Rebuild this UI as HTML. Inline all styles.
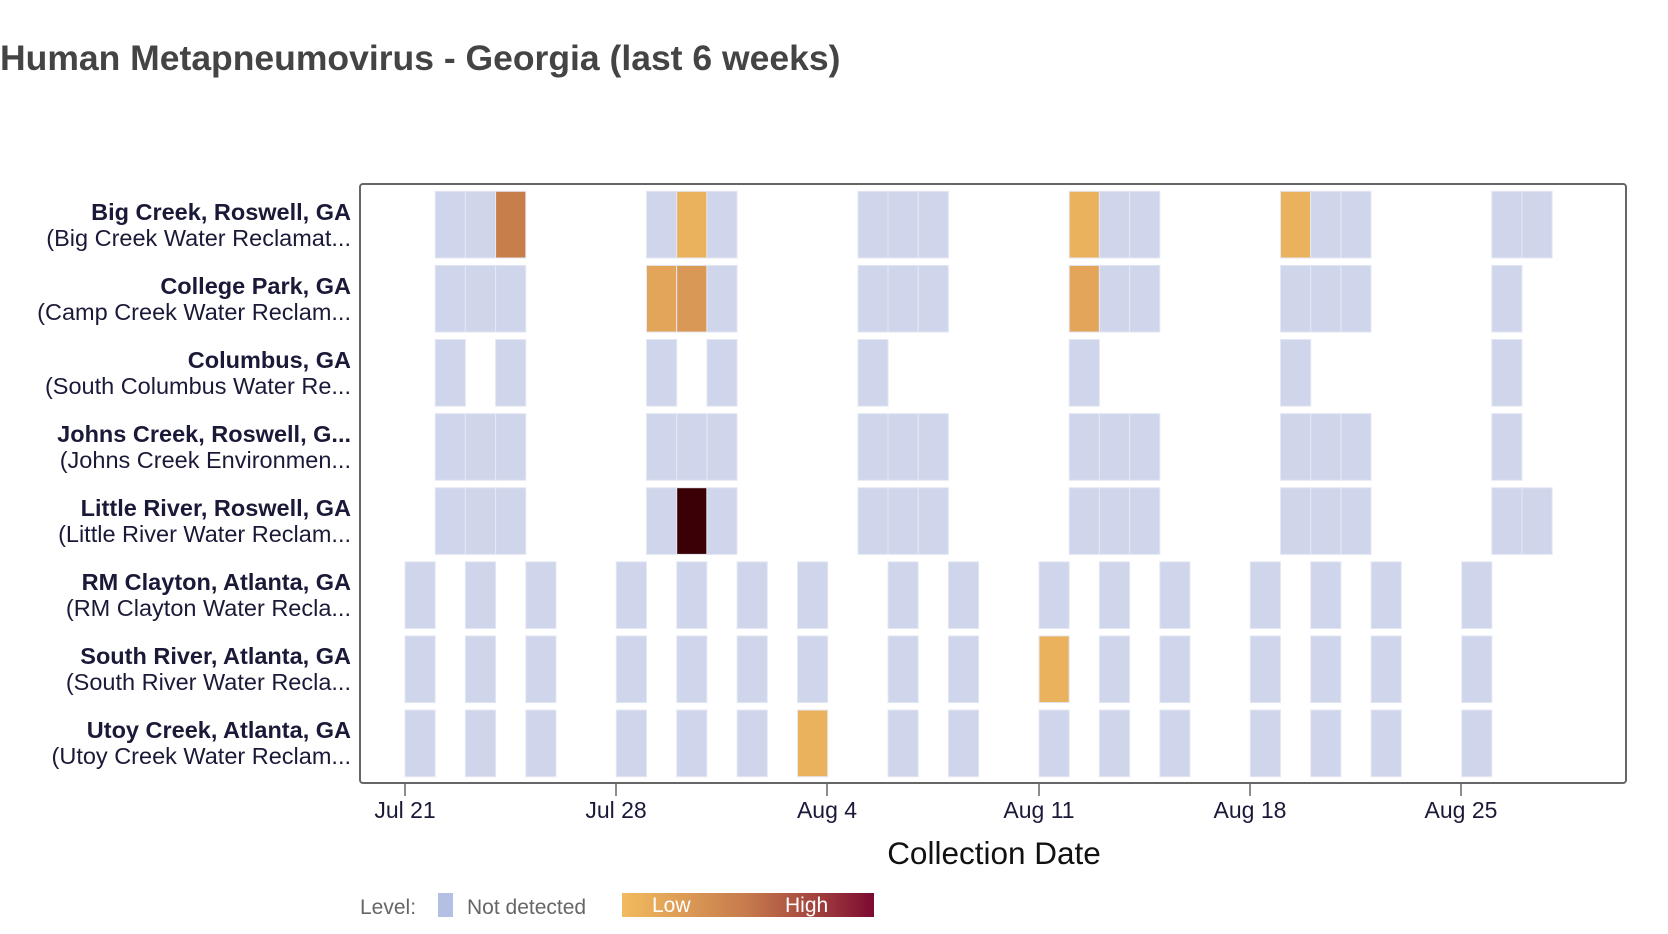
<!DOCTYPE html>
<html><head><meta charset="utf-8"><style>body{margin:0;background:#fff}svg{display:block}</style></head>
<body>
<svg width="1668" height="934" xmlns="http://www.w3.org/2000/svg" font-family="Liberation Sans, Arial, sans-serif">
<defs><linearGradient id="g" x1="0" x2="1"><stop offset="0" stop-color="#f2bb5e"/><stop offset="0.5" stop-color="#c57a4c"/><stop offset="0.75" stop-color="#a5463f"/><stop offset="1" stop-color="#7c0a32"/></linearGradient></defs>
<text x="0" y="70" font-size="35.5" font-weight="bold" fill="#444">Human Metapneumovirus - Georgia (last 6 weeks)</text>
<rect x="360" y="184" width="1266" height="599" rx="3" fill="none" stroke="#666" stroke-width="2"/>
<g stroke="#e4e8f4" stroke-width="1" fill="#cfd6ec">
<g transform="translate(0,191.3)">
<rect x="435.2" width="30.2" height="66.7"/><rect x="465.4" width="30.2" height="66.7"/><rect x="495.6" width="30.2" height="66.7" fill="#c87e4b"/>
<rect x="646.5" width="30.2" height="66.7"/><rect x="676.7" width="30.2" height="66.7" fill="#eab25c"/><rect x="706.9" width="30.2" height="66.7"/>
<rect x="857.9" width="30.2" height="66.7"/><rect x="888.0" width="30.2" height="66.7"/><rect x="918.2" width="30.2" height="66.7"/>
<rect x="1069.2" width="30.2" height="66.7" fill="#eab25c"/><rect x="1099.4" width="30.2" height="66.7"/><rect x="1129.6" width="30.2" height="66.7"/>
<rect x="1280.5" width="30.2" height="66.7" fill="#eab25c"/><rect x="1310.7" width="30.2" height="66.7"/><rect x="1340.9" width="30.2" height="66.7"/>
<rect x="1491.8" width="30.2" height="66.7"/><rect x="1522.0" width="30.2" height="66.7"/>
</g>
<g transform="translate(0,265.4)">
<rect x="435.2" width="30.2" height="66.7"/><rect x="465.4" width="30.2" height="66.7"/><rect x="495.6" width="30.2" height="66.7"/>
<rect x="646.5" width="30.2" height="66.7" fill="#e2a55a"/><rect x="676.7" width="30.2" height="66.7" fill="#d99855"/><rect x="706.9" width="30.2" height="66.7"/>
<rect x="857.9" width="30.2" height="66.7"/><rect x="888.0" width="30.2" height="66.7"/><rect x="918.2" width="30.2" height="66.7"/>
<rect x="1069.2" width="30.2" height="66.7" fill="#e2a55a"/><rect x="1099.4" width="30.2" height="66.7"/><rect x="1129.6" width="30.2" height="66.7"/>
<rect x="1280.5" width="30.2" height="66.7"/><rect x="1310.7" width="30.2" height="66.7"/><rect x="1340.9" width="30.2" height="66.7"/>
<rect x="1491.8" width="30.2" height="66.7"/>
</g>
<g transform="translate(0,339.5)">
<rect x="435.2" width="30.2" height="66.7"/><rect x="495.6" width="30.2" height="66.7"/>
<rect x="646.5" width="30.2" height="66.7"/><rect x="706.9" width="30.2" height="66.7"/>
<rect x="857.9" width="30.2" height="66.7"/><rect x="1069.2" width="30.2" height="66.7"/><rect x="1280.5" width="30.2" height="66.7"/><rect x="1491.8" width="30.2" height="66.7"/>
</g>
<g transform="translate(0,413.6)">
<rect x="435.2" width="30.2" height="66.7"/><rect x="465.4" width="30.2" height="66.7"/><rect x="495.6" width="30.2" height="66.7"/>
<rect x="646.5" width="30.2" height="66.7"/><rect x="676.7" width="30.2" height="66.7"/><rect x="706.9" width="30.2" height="66.7"/>
<rect x="857.9" width="30.2" height="66.7"/><rect x="888.0" width="30.2" height="66.7"/><rect x="918.2" width="30.2" height="66.7"/>
<rect x="1069.2" width="30.2" height="66.7"/><rect x="1099.4" width="30.2" height="66.7"/><rect x="1129.6" width="30.2" height="66.7"/>
<rect x="1280.5" width="30.2" height="66.7"/><rect x="1310.7" width="30.2" height="66.7"/><rect x="1340.9" width="30.2" height="66.7"/>
<rect x="1491.8" width="30.2" height="66.7"/>
</g>
<g transform="translate(0,487.7)">
<rect x="435.2" width="30.2" height="66.7"/><rect x="465.4" width="30.2" height="66.7"/><rect x="495.6" width="30.2" height="66.7"/>
<rect x="646.5" width="30.2" height="66.7"/><rect x="676.7" width="30.2" height="66.7" fill="#3a0005"/><rect x="706.9" width="30.2" height="66.7"/>
<rect x="857.9" width="30.2" height="66.7"/><rect x="888.0" width="30.2" height="66.7"/><rect x="918.2" width="30.2" height="66.7"/>
<rect x="1069.2" width="30.2" height="66.7"/><rect x="1099.4" width="30.2" height="66.7"/><rect x="1129.6" width="30.2" height="66.7"/>
<rect x="1280.5" width="30.2" height="66.7"/><rect x="1310.7" width="30.2" height="66.7"/><rect x="1340.9" width="30.2" height="66.7"/>
<rect x="1491.8" width="30.2" height="66.7"/><rect x="1522.0" width="30.2" height="66.7"/>
</g>
<g transform="translate(0,561.8)">
<rect x="405.0" width="30.2" height="66.7"/><rect x="465.4" width="30.2" height="66.7"/><rect x="525.8" width="30.2" height="66.7"/>
<rect x="616.3" width="30.2" height="66.7"/><rect x="676.7" width="30.2" height="66.7"/><rect x="737.1" width="30.2" height="66.7"/><rect x="797.5" width="30.2" height="66.7"/>
<rect x="888.0" width="30.2" height="66.7"/><rect x="948.4" width="30.2" height="66.7"/>
<rect x="1039.0" width="30.2" height="66.7"/><rect x="1099.4" width="30.2" height="66.7"/><rect x="1159.8" width="30.2" height="66.7"/>
<rect x="1250.3" width="30.2" height="66.7"/><rect x="1310.7" width="30.2" height="66.7"/><rect x="1371.1" width="30.2" height="66.7"/>
<rect x="1461.7" width="30.2" height="66.7"/>
</g>
<g transform="translate(0,635.9)">
<rect x="405.0" width="30.2" height="66.7"/><rect x="465.4" width="30.2" height="66.7"/><rect x="525.8" width="30.2" height="66.7"/>
<rect x="616.3" width="30.2" height="66.7"/><rect x="676.7" width="30.2" height="66.7"/><rect x="737.1" width="30.2" height="66.7"/><rect x="797.5" width="30.2" height="66.7"/>
<rect x="888.0" width="30.2" height="66.7"/><rect x="948.4" width="30.2" height="66.7"/>
<rect x="1039.0" width="30.2" height="66.7" fill="#eab25c"/><rect x="1099.4" width="30.2" height="66.7"/><rect x="1159.8" width="30.2" height="66.7"/>
<rect x="1250.3" width="30.2" height="66.7"/><rect x="1310.7" width="30.2" height="66.7"/><rect x="1371.1" width="30.2" height="66.7"/>
<rect x="1461.7" width="30.2" height="66.7"/>
</g>
<g transform="translate(0,710.0)">
<rect x="405.0" width="30.2" height="66.7"/><rect x="465.4" width="30.2" height="66.7"/><rect x="525.8" width="30.2" height="66.7"/>
<rect x="616.3" width="30.2" height="66.7"/><rect x="676.7" width="30.2" height="66.7"/><rect x="737.1" width="30.2" height="66.7"/><rect x="797.5" width="30.2" height="66.7" fill="#eab25c"/>
<rect x="888.0" width="30.2" height="66.7"/><rect x="948.4" width="30.2" height="66.7"/>
<rect x="1039.0" width="30.2" height="66.7"/><rect x="1099.4" width="30.2" height="66.7"/><rect x="1159.8" width="30.2" height="66.7"/>
<rect x="1250.3" width="30.2" height="66.7"/><rect x="1310.7" width="30.2" height="66.7"/><rect x="1371.1" width="30.2" height="66.7"/>
<rect x="1461.7" width="30.2" height="66.7"/>
</g>
</g>
<g font-size="23.5" fill="#1a1a38" text-anchor="end">
<text x="351" y="220" font-weight="bold">Big Creek, Roswell, GA</text><text x="351" y="246">(Big Creek Water Reclamat...</text>
<text x="351" y="294" font-weight="bold">College Park, GA</text><text x="351" y="320">(Camp Creek Water Reclam...</text>
<text x="351" y="368" font-weight="bold">Columbus, GA</text><text x="351" y="394">(South Columbus Water Re...</text>
<text x="351" y="442" font-weight="bold">Johns Creek, Roswell, G...</text><text x="351" y="468">(Johns Creek Environmen...</text>
<text x="351" y="516" font-weight="bold">Little River, Roswell, GA</text><text x="351" y="542">(Little River Water Reclam...</text>
<text x="351" y="590" font-weight="bold">RM Clayton, Atlanta, GA</text><text x="351" y="616">(RM Clayton Water Recla...</text>
<text x="351" y="664" font-weight="bold">South River, Atlanta, GA</text><text x="351" y="690">(South River Water Recla...</text>
<text x="351" y="738" font-weight="bold">Utoy Creek, Atlanta, GA</text><text x="351" y="764">(Utoy Creek Water Reclam...</text>
</g>
<g stroke="#666" stroke-width="1.5">
<line x1="405" y1="784" x2="405" y2="796"/><line x1="616" y1="784" x2="616" y2="796"/><line x1="827" y1="784" x2="827" y2="796"/><line x1="1039" y1="784" x2="1039" y2="796"/><line x1="1250" y1="784" x2="1250" y2="796"/><line x1="1461" y1="784" x2="1461" y2="796"/>
</g>
<g font-size="23" fill="#1a1a38" text-anchor="middle">
<text x="405" y="818">Jul 21</text><text x="616" y="818">Jul 28</text><text x="827" y="818">Aug 4</text><text x="1039" y="818">Aug 11</text><text x="1250" y="818">Aug 18</text><text x="1461" y="818">Aug 25</text>
</g>
<text x="994" y="864" font-size="31.5" text-anchor="middle" fill="#111">Collection Date</text>
<text x="360" y="914" font-size="21" fill="#666">Level:</text>
<rect x="438" y="893" width="15" height="24" fill="#b3c0e3"/>
<text x="467" y="914" font-size="21" fill="#666">Not detected</text>
<rect x="622" y="893" width="252" height="24" fill="url(#g)"/>
<text x="652" y="912" font-size="21" fill="#fff">Low</text>
<text x="785" y="912" font-size="21" fill="#fff">High</text>
</svg>
</body></html>
